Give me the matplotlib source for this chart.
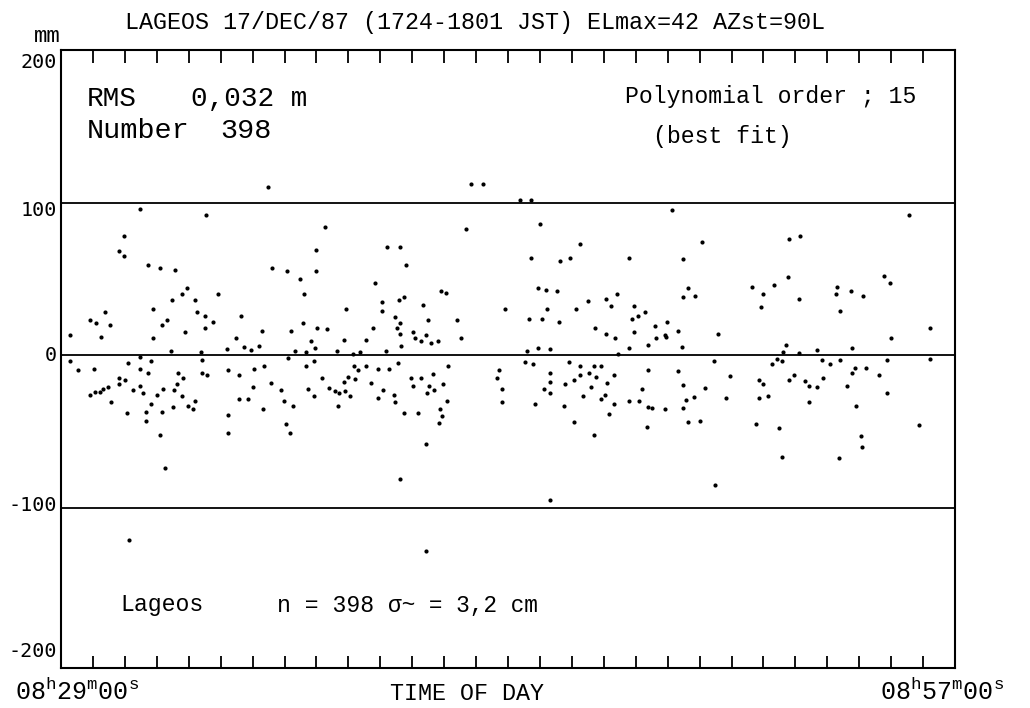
import matplotlib
matplotlib.use("Agg")
import matplotlib.pyplot as plt
import matplotlib.transforms as mtransforms

plt.rcParams['mathtext.fontset'] = 'custom'
plt.rcParams['mathtext.rm'] = 'Liberation Mono'
plt.rcParams['mathtext.it'] = 'Liberation Mono'

# time since 08h29m00s (minutes), residual (mm)
t_min = [
    2.47, 4.55, 1.96, 1.83, 1.96, 2.72, 3.11, 3.58, 3.95, 3.78, 3.49, 4.19, 2.88, 1.39, 4.27, 4.50,
    0.90, 1.11, 1.53, 3.32, 3.16, 4.51, 0.28, 1.24, 3.87, 2.87, 3.44, 4.39, 0.29, 0.52, 1.04, 2.10,
    2.48, 2.83, 2.48, 2.72, 4.42, 4.42, 4.56, 3.68, 3.81, 1.83, 1.83, 2.01, 3.64, 3.55, 3.20, 2.24,
    2.48, 2.58, 3.01, 1.46, 1.32, 1.23, 1.05, 0.91, 1.57, 3.79, 4.20, 3.98, 4.13, 3.51, 2.82, 2.67,
    3.16, 2.06, 2.67, 3.11, 3.26, 2.12,
    6.48, 8.27, 7.99, 6.61, 7.08, 7.99, 7.47, 4.93, 7.62, 8.93, 5.63, 4.76, 7.59, 8.01, 8.34, 7.19,
    6.31, 5.48, 7.82, 8.86, 5.72, 6.20, 7.97, 5.20, 5.96, 7.34, 7.67, 8.63, 9.13, 7.10, 7.91, 7.68,
    6.37, 9.18, 5.24, 6.05, 5.57, 8.18, 8.98, 9.20, 6.59, 6.00, 7.73, 8.38, 6.90, 8.57, 8.87, 8.90,
    8.72, 9.05, 5.56, 5.85, 7.91, 6.99, 7.28, 8.68, 6.34, 5.23, 7.04, 5.23, 7.18,
    12.83, 13.23, 12.69, 10.20, 10.63, 10.82, 9.84, 11.89, 12.05, 10.06, 10.58, 10.74, 11.34, 10.06,
    10.46, 10.61, 11.48, 12.40, 10.51, 9.77, 10.62, 11.03, 11.09, 11.44, 11.27, 11.58, 11.82, 12.53,
    9.54, 10.65, 10.17, 9.36, 9.55, 9.29, 9.93, 10.28, 10.56, 12.13, 11.64, 10.97, 11.28, 9.70,
    11.04, 11.53, 11.96, 11.67, 10.10, 11.47, 10.42, 9.92, 12.10, 10.46, 11.88, 10.75, 11.19, 11.92,
    11.83, 11.44, 10.62, 11.43, 13.64, 13.72,
    14.37, 14.72, 15.00, 16.24, 14.71, 15.63, 15.93, 17.79, 14.94, 15.19, 15.54, 17.42, 17.07, 16.50,
    17.24, 17.95, 13.92, 15.21, 16.12, 14.67, 15.08, 15.59, 17.87, 18.06, 16.74, 17.07, 17.95, 17.34,
    14.58, 14.93, 15.32, 17.78, 17.46, 14.54, 14.79, 15.92, 16.27, 16.70, 16.91, 15.33, 16.27, 16.55,
    16.75, 17.32, 15.32, 16.07, 15.78, 17.09, 15.12, 13.80, 16.61, 18.21, 15.32, 16.35, 16.91, 17.05,
    13.80, 14.84, 15.75, 17.31, 17.79, 18.11, 17.15, 16.06, 16.68, 15.30,
    19.15, 20.07, 22.80, 19.49, 22.78, 21.64, 22.34, 19.65, 19.49, 19.85, 22.00, 21.92, 18.30, 18.60,
    18.99, 18.91, 18.95, 19.33, 18.63, 18.39, 19.45, 20.59, 22.70, 22.60, 22.41, 22.57, 20.45, 22.28,
    18.40, 19.33, 20.95, 21.86, 22.00, 22.81, 19.48, 20.18, 19.83, 20.82, 21.85, 22.15, 19.59, 18.37,
    18.50, 18.92, 19.48, 19.64, 20.02, 18.36, 21.76, 22.48, 22.59, 20.49,
    26.55, 23.15, 25.78, 25.96, 24.31, 24.28, 24.74, 25.12, 23.12, 24.39, 27.21, 26.00, 24.78, 23.68,
    23.10, 23.83, 24.41, 25.87, 27.22, 24.07, 24.88, 25.22, 24.77, 25.63, 22.96, 23.31, 23.88, 23.44,
    23.68, 24.61, 25.86, 23.44, 24.90, 26.86, 25.07, 25.08, 24.37,
]
resid_mm = [
    96, 92, 78, 68, 65, 59, 57, 56, 44, 40, 36, 36, 30, 28, 28, 26,
    23, 21, 20, 23, 20, 18, 13, 12, 15, 11, 3, 2, -4, -10, -9, -5,
    -1.5, -4, -9, -12, -3, -12, -13, -12, -15, -15, -19, -16, -19, -23, -22, -23,
    -20, -25, -26, -21, -22, -24, -24, -26, -31, -27, -30, -33, -35, -34, -32, -37,
    -37, -38, -43, -52, -74, -121,
    110, 84, 69, 57, 55, 55, 50, 40, 40, 30, 26, 22, 21, 18, 17, 16,
    16, 11, 9, 10, 5.5, 6, 5, 4, 3.5, 3, 2, 3, 1, -2, -4, -7,
    -7, -7, -10, -9, -13, -15, -14.5, -15.5, -18, -21, -22, -21.5, -23, -23.5, -17.5, -23.5,
    -25, -27, -28.5, -28.5, -27, -30, -33, -33, -35.5, -39, -45, -51, -51,
    112, 112, 83, 71, 71, 59, 47, 42, 40.5, 35, 36, 38, 33, 29,
    25, 21, 23, 23, 17.5, 17.5, 14, 15, 11, 13, 9, 8, 9, 11,
    10, 6, 3, 2, -7, -10, -9, -9, -5, -7, -12.5, -15, -15, -18,
    -20, -20, -19, -22.5, -23, -25, -26, -28, -30, -31, -35, -38, -38, -40,
    -44.5, -58.5, -81, -128, -15, -10,
    102, 102, 86, 73, 63.5, 62, 64, 64, 44, 43, 42, 40, 37, 35.5,
    32, 32, 30, 30, 30, 24, 24, 22, 24, 26, 18, 14, 15, 11,
    3, 5, 4, 4.6, 1, -4.6, -5.5, -4.6, -7, -7, -7, -12, -13, -11.6,
    -14, -13, -17.5, -16, -19, -18, -22, -22, -21, -22, -25, -27, -28.5, -26,
    -31, -32, -33, -32, -30, -30, -38.5, -43.6, -52, -95,
    95, 74, 76, 63, 51, 45, 46, 44, 38, 39, 40, 31.5, 28, 19,
    22, 13, 12, 16, 11, 7, 5.5, 14, 7, 2, -2.4, -4, -3.7, -6,
    -9.4, -10.5, -13.4, -16, -18.6, -16.4, -19.5, -21.5, -27.6, -28, -28, -26.7, -29.6, -33.7,
    -34.6, -35.5, -34.6, -43.8, -43, -47, -45.3, -47.5, -67, -85.4,
    92, 78, 52, 47, 45, 40, 42, 39, 37, 29, 18, 11, 4.6, 3.5,
    1.5, -3, -3.3, -3.3, -2.2, -6, -8.3, -8.3, -12, -13, -13, -17, -15, -20.4,
    -21, -20.4, -25, -31, -33.5, -45.6, -53, -60, -67.5,
]

ref_lines = [100, 0, -100]
y_ticks = [200, 100, 0, -100, -200]
y_ticklabels = ["200", "100", "0", "-100", "-200"]
# small vertical nudges of the printed labels (pixels, + = down), as in the scan
y_label_nudge = [12, 8, 0, -2, -9]
x_ticks = list(range(1, 28))

W, H = 1030, 708
fig = plt.figure(figsize=(W / 100, H / 100), dpi=100)
ax = fig.add_axes([61 / W, 1 - 668 / H, (955 - 61) / W, (668 - 50) / H])

mono = 'Liberation Mono'

ax.plot(t_min, resid_mm, linestyle='none', marker='o', markersize=3.0,
        color='black', markeredgewidth=0)
for v in ref_lines:
    ax.axhline(v, color='black', lw=1.3)

ax.set_xlim(0, 28)
ax.set_ylim(-205, 200)
for s in ax.spines.values():
    s.set_linewidth(1.5)
    s.set_color('black')

ax.set_xticks(x_ticks)
ax.set_xticklabels([])
ax.tick_params(axis='x', direction='in', length=9, width=1.3, top=True, bottom=True)
ax.set_yticks([])

blend = mtransforms.blended_transform_factory(ax.transAxes, ax.transData)
for val, lab, dy in zip(y_ticks, y_ticklabels, y_label_nudge):
    tr = blend + mtransforms.ScaledTranslation(-4 / 100, -dy / 100, fig.dpi_scale_trans)
    ax.text(0, val, lab, transform=tr, ha='right', va='center',
            family='DejaVu Sans Mono', fontsize=14.5)


def px(x, y):
    return x / W, 1 - y / H


fig.text(*px(125, 22), "LAGEOS 17/DEC/87 (1724-1801 JST) ELmax=42 AZst=90L",
         family=mono, fontsize=16.8, ha='left', va='center')
fig.text(*px(34, 37), "mm", family=mono, fontsize=16, ha='left', va='center')
fig.text(*px(87, 99), "RMS", family=mono, fontsize=20, ha='left', va='center')
fig.text(*px(191, 99), "0,032 m", family=mono, fontsize=20, ha='left', va='center')
fig.text(*px(87, 131), "Number", family=mono, fontsize=20.5, ha='left', va='center')
fig.text(*px(220, 131), "398", family=mono, fontsize=20.5, ha='left', va='center')
fig.text(*px(625, 96), "Polynomial order ; 15", family=mono, fontsize=16.7, ha='left', va='center')
fig.text(*px(653, 136), "(best fit)", family=mono, fontsize=16.7, ha='left', va='center')
fig.text(*px(120, 605), "Lageos", family=mono, fontsize=16.7, ha='left', va='center')
fig.text(*px(277, 605), "n = 398", family=mono, fontsize=16.7, ha='left', va='center')
fig.text(*px(388, 605), "\u03c3~ = 3,2 cm", family=mono, fontsize=16.4, ha='left', va='center')
fig.text(*px(15, 700), r"08$^{\mathrm{h}}$29$^{\mathrm{m}}$00$^{\mathrm{s}}$",
         family=mono, fontsize=18, ha='left', va='baseline')
fig.text(*px(880, 700), r"08$^{\mathrm{h}}$57$^{\mathrm{m}}$00$^{\mathrm{s}}$",
         family=mono, fontsize=18, ha='left', va='baseline')
fig.text(*px(467, 693), "TIME OF DAY", family=mono, fontsize=16.8, ha='center', va='center')

fig.savefig("out.png", dpi=100)
